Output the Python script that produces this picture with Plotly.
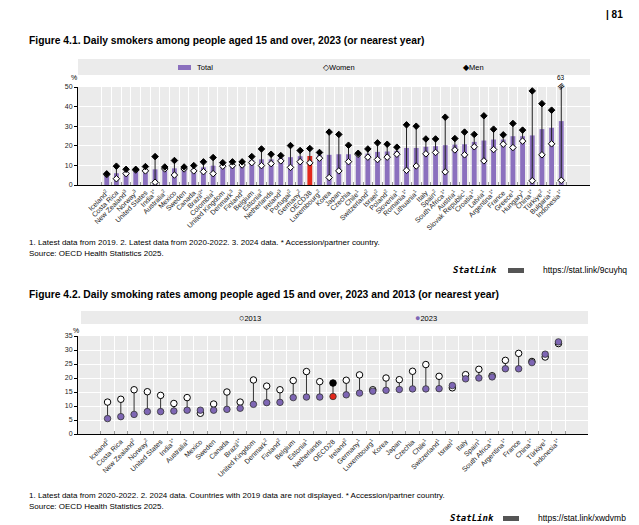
import plotly.graph_objects as go

W, H = 639, 525
FONT = "Liberation Sans Narrow, Arial Narrow, Liberation Sans, Arial"
PURPLE = "#8B70BE"
RED = "#E3281C"

# --- Figure 4.1 data ---
c1 = ["Iceland", "Costa Rica", "New Zealand", "Norway", "United States", "India",
      "Australia", "Mexico", "Sweden", "Canada", "Brazil", "Colombia", "United Kingdom",
      "Denmark", "Finland", "Belgium", "Estonia", "Netherlands", "Ireland", "Portugal",
      "Germany", "OECD38", "Luxembourg", "Korea", "Japan", "Czechia", "Chile",
      "Switzerland", "Israel", "Poland", "Slovenia", "Romania", "Lithuania", "Italy",
      "Spain", "South Africa", "Austria", "Slovak Republic", "Croatia", "Latvia",
      "Argentina", "France", "Greece", "Hungary", "China", "Türkiye", "Bulgaria",
      "Indonesia"]
sup1 = ["2", "", "3", "3", "", "1*", "2", "", "", "", "2*", "1", "", "3", "3", "",
        "2", "", "3", "2", "2", "", "2", "", "", "", "1", "2", "2", "2", "1", "1*",
        "1", "", "2", "1*", "1", "1", "1*", "1", "1*", "", "1", "1", "1*", "2", "1*",
        "1*"]
total1 = [5.0, 6.0, 6.5, 8.0, 7.7, 8.0, 8.5, 8.5, 9.0, 8.2, 9.0, 9.9, 10.0, 10.2,
          10.8, 12.8, 13.1, 13.1, 13.7, 14.2, 14.7, 14.8, 15.2, 15.4, 15.7, 15.7, 15.2,
          16.0, 16.9, 17.1, 17.4, 18.9, 18.9, 19.5, 19.8, 20.3, 20.6, 20.8, 22.0, 22.7,
          23.2, 23.2, 24.9, 24.9, 25.3, 28.5, 29.2, 32.6]
women1 = [5.3, 3.2, 5.8, 7.6, 7.2, 1.4, 8.2, 5.1, 8.2, 7.2, 6.8, 5.8, 9.6, 9.9,
          10.2, 11.4, 9.9, 10.9, 12.3, 9.0, 11.9, 11.3, 13.7, 3.8, 7.2, 11.9, 15.6,
          14.2, 13.0, 14.2, 15.7, 7.5, 9.7, 15.9, 16.6, 6.7, 17.9, 15.4, 19.5, 12.3,
          18.1, 20.8, 19.1, 22.4, 2.2, 15.4, 21.0, 2.4]
men1 = [5.7, 9.6, 8.0, 8.0, 9.4, 14.5, 9.2, 12.5, 9.2, 9.9, 11.8, 14.0, 11.4, 11.8,
        11.8, 14.5, 18.4, 15.7, 15.0, 20.1, 17.6, 18.6, 16.6, 27.0, 25.8, 20.3, 16.2,
        18.4, 21.5, 20.8, 19.3, 30.7, 30.0, 23.5, 23.5, 34.6, 23.7, 27.0, 25.8, 35.3,
        28.5, 25.6, 31.4, 28.0, 48.0, 41.5, 38.2, 63.0]

# --- Figure 4.2 data ---
c2 = ["Iceland", "Costa Rica", "New Zealand", "Norway", "United States", "India",
      "Australia", "Mexico", "Sweden", "Canada", "Brazil", "United Kingdom", "Denmark",
      "Finland", "Belgium", "Estonia", "Netherlands", "OECD28", "Ireland", "Germany",
      "Luxembourg", "Korea", "Japan", "Czechia", "Chile", "Switzerland", "Israel",
      "Italy", "Spain", "South Africa", "Argentina", "France", "China", "Türkiye",
      "Indonesia"]
sup2 = ["2", "", "2", "2", "", "1*", "1", "", "", "", "1*", "", "2", "2", "", "1", "",
        "", "2", "1", "1", "", "", "", "1", "1", "1", "", "1", "1*", "1*", "", "1*",
        "1", "1*"]
y2013 = [11.4, 12.4, 15.8, 15.1, 13.8, 10.9, 13.0, 7.4, 10.7, 15.0, 11.4, 19.3, 17.1,
         15.8, 19.1, 22.3, 18.7, 18.2, 19.2, 21.1, 15.8, 20.0, 19.4, 22.4, 24.8, 20.6,
         16.5, 21.2, 23.1, 20.8, 26.3, 28.8, 25.9, 27.5, 32.3]
y2023 = [5.5, 6.2, 7.0, 8.0, 8.0, 8.2, 8.5, 8.5, 8.5, 8.8, 9.2, 10.6, 11.2, 11.3,
         13.0, 13.2, 13.2, 13.4, 14.0, 14.6, 15.3, 15.6, 15.9, 16.1, 16.1, 16.2, 17.3,
         19.7, 20.0, 20.4, 23.3, 23.3, 25.5, 28.5, 32.9]


def px(x):
    return x / W


def py(y):
    return 1 - y / H


def labels(names, sups):
    return [n + (f"<sup>{s}</sup>" if s else "") for n, s in zip(names, sups)]


def segs(cats, a, b):
    xs, ys = [], []
    for c, v0, v1 in zip(cats, a, b):
        xs += [c, c, None]
        ys += [v0, v1, None]
    return xs, ys


fig = go.Figure()

# chart 1
fig.add_trace(go.Bar(x=c1, y=total1, width=0.5, xaxis="x", yaxis="y",
                     marker=dict(color=[RED if c.startswith("OECD") else PURPLE for c in c1],
                                 line=dict(width=0))))
lx, ly = segs(c1, women1, men1)
fig.add_trace(go.Scatter(x=lx, y=ly, mode="lines", xaxis="x", yaxis="y",
                         line=dict(color="#222", width=1)))
fig.add_trace(go.Scatter(x=c1, y=women1, mode="markers", xaxis="x", yaxis="y",
                         marker=dict(symbol="diamond", size=5, color="white",
                                     line=dict(color="black", width=1))))
fig.add_trace(go.Scatter(x=c1, y=men1, mode="markers", xaxis="x", yaxis="y",
                         marker=dict(symbol="diamond", size=5, color="black",
                                     line=dict(color="black", width=1))))

# chart 2
lx2, ly2 = segs(c2, y2013, y2023)
fig.add_trace(go.Scatter(x=lx2, y=ly2, mode="lines", xaxis="x2", yaxis="y2",
                         line=dict(color="#333", width=1)))
fig.add_trace(go.Scatter(x=c2, y=y2013, mode="markers", xaxis="x2", yaxis="y2",
                         marker=dict(size=6.5, color=["black" if c.startswith("OECD") else "white" for c in c2],
                                     line=dict(color="black", width=1))))
fig.add_trace(go.Scatter(x=c2, y=y2023, mode="markers", xaxis="x2", yaxis="y2",
                         marker=dict(size=6.5, color=[RED if c.startswith("OECD") else "#7E66B4" for c in c2],
                                     line=dict(color="#333", width=0.8))))

axfont = dict(family=FONT, size=7, color="#222")
xcommon = dict(type="category", tickmode="array", tickangle=-45, tickson="boundaries",
               showgrid=True, gridcolor="white", gridwidth=1, ticks="inside", ticklen=3,
               tickcolor="#999", showline=True, linecolor="black", linewidth=1,
               tickfont=axfont, fixedrange=True)
ycommon = dict(showgrid=True, gridcolor="white", gridwidth=1, zeroline=False,
               showline=True, linecolor="black", linewidth=1, ticks="outside",
               ticklen=3, tickcolor="black", tickfont=axfont, fixedrange=True)

fig.update_layout(
    width=W, height=H, template="none", showlegend=False,
    margin=dict(l=0, r=0, t=0, b=0),
    paper_bgcolor="white", plot_bgcolor="#EBEBEB",
    bargap=0.5,
    xaxis=dict(xcommon, domain=[px(70), px(582)], tickvals=c1, ticktext=labels(c1, sup1),
               anchor="y"),
    yaxis=dict(ycommon, domain=[py(177), py(79)], range=[0, 50], dtick=10, anchor="x"),
    xaxis2=dict(xcommon, domain=[px(70), px(580)], tickvals=c2, ticktext=labels(c2, sup2),
                anchor="y2"),
    yaxis2=dict(ycommon, domain=[py(426), py(328)], range=[0, 35], dtick=5, anchor="x2"),
)

# legend boxes and swatches
fig.add_shape(type="rect", xref="paper", yref="paper", x0=px(70), x1=px(582),
              y0=py(67), y1=py(51), fillcolor="#EBEBEB", line=dict(width=0), layer="below")
fig.add_shape(type="rect", xref="paper", yref="paper", x0=px(170), x1=px(183),
              y0=py(62), y1=py(57), fillcolor=PURPLE, line=dict(width=0))
fig.add_shape(type="rect", xref="paper", yref="paper", x0=px(73), x1=px(580),
              y0=py(316), y1=py(303), fillcolor="#EBEBEB", line=dict(width=0), layer="below")
# StatLink icons
for x0, yy in ((500, 262), (495, 510)):
    fig.add_shape(type="rect", xref="paper", yref="paper", x0=px(x0), x1=px(x0 + 16),
                  y0=py(yy + 3), y1=py(yy - 2), fillcolor="#555", line=dict(width=0))


def note(x, y, text, size=8, bold=False, xanchor="left", color="black", family=None):
    fig.add_annotation(xref="paper", yref="paper", x=px(x), y=py(y),
                       text=f"<b>{text}</b>" if bold else text,
                       showarrow=False, xanchor=xanchor, yanchor="middle",
                       font=dict(family=family or "Liberation Sans, Arial", size=size, color=color))


note(617, 7, "| 81", size=10, bold=True, xanchor="right")
note(19, 33, "Figure 4.1. Daily smokers among people aged 15 and over, 2023 (or nearest year)",
     size=10.3, bold=True)
note(187, 59.5, "Total", size=7.5, family=FONT)
note(313, 59.5, "◇Women", size=7.5, family=FONT)
note(453, 59.5, "◆Men", size=7.5, family=FONT)
note(66, 70, "%", size=7, family=FONT, xanchor="center")
note(19, 234, "1. Latest data from 2019. 2. Latest data from 2020-2022. 3. 2024 data. "
     "* Accession/partner country.", size=8)
note(19, 245, "Source: OECD Health Statistics 2025.", size=8)
note(443, 262, "<i>StatLink</i>", size=9, bold=True, family="DejaVu Sans Mono")
note(533, 262, "https://stat.link/9cuyhq", size=8.5, family=FONT)

note(19, 286, "Figure 4.2. Daily smoking rates among people aged 15 and over, 2023 and 2013 "
     "(or nearest year)", size=10.3, bold=True)
note(229, 310, "<span style='font-size:9px'>○</span>2013", size=7.5, family=FONT)
note(405, 310, "<span style='color:#7E66B4;font-size:9px'>●</span>2023", size=7.5, family=FONT)
note(68, 322, "%", size=7, family=FONT, xanchor="center")
note(19, 487, "1. Latest data from 2020-2022. 2. 2024 data. Countries with 2019 data are not "
     "displayed. * Accession/partner country.", size=8)
note(19, 498, "Source: OECD Health Statistics 2025.", size=8)
note(440, 510, "<i>StatLink</i>", size=9, bold=True, family="DejaVu Sans Mono")
note(528, 510, "https://stat.link/xwdvmb", size=8.5, family=FONT)

# broken axis marker for Indonesia men
fig.add_annotation(x="Indonesia", y=50, xref="x", yref="y", text="63", showarrow=False,
                   yshift=9, font=dict(family=FONT, size=6.5, color="black"))
fig.add_annotation(x="Indonesia", y=50, xref="x", yref="y", text="≡", showarrow=False,
                   textangle=-40, yshift=1, font=dict(family="DejaVu Sans", size=9, color="black"))

fig.write_html("out.html")
